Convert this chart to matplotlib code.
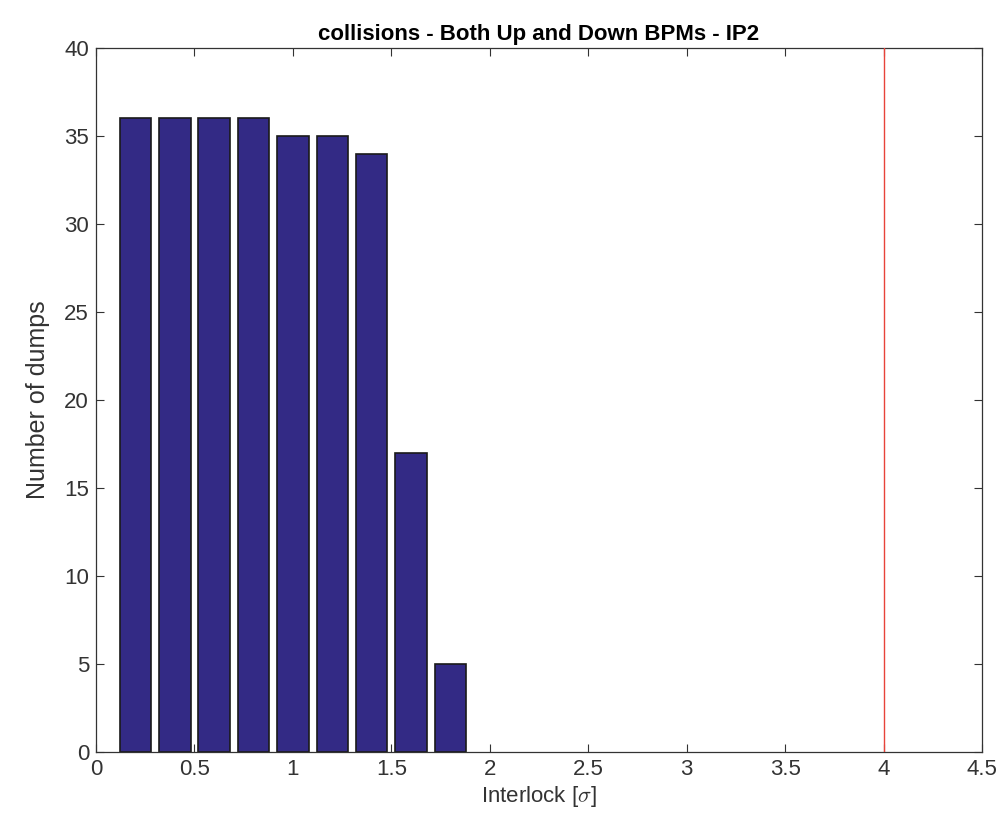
import matplotlib
matplotlib.use("Agg")
import matplotlib.pyplot as plt

plt.rcParams['font.family'] = ['Liberation Sans', 'DejaVu Sans']
plt.rcParams['mathtext.fontset'] = 'cm'

interlock = [0.2, 0.4, 0.6, 0.8, 1.0, 1.2, 1.4, 1.6, 1.8]
dumps = [36, 36, 36, 36, 35, 35, 34, 17, 5]
threshold = 4.0
xticks = [0, 0.5, 1, 1.5, 2, 2.5, 3, 3.5, 4, 4.5]
xticklabels = ['0', '0.5', '1', '1.5', '2', '2.5', '3', '3.5', '4', '4.5']
yticks = [0, 5, 10, 15, 20, 25, 30, 35, 40]

fig = plt.figure(figsize=(10.01, 8.15), dpi=100)
ax = fig.add_axes([0.0959, 0.0773, 0.8851, 0.8638])

ax.bar(interlock, dumps, width=0.16, color='#332a85', edgecolor='#1a1a1a', linewidth=1.2, zorder=2)
ax.axvline(threshold, color='#e8433a', linewidth=1.0, zorder=3)

ax.set_xlim(0, 4.5)
ax.set_ylim(0, 40)
ax.set_xticks(xticks)
ax.set_xticklabels(xticklabels)
ax.set_yticks(yticks)
ax.tick_params(direction='in', length=6, width=0.8, colors='#333333', labelsize=16,
               top=True, right=True, pad=5)
for s in ax.spines.values():
    s.set_color('#333333')
    s.set_linewidth(0.9)

ax.set_xlabel(r'Interlock [$\sigma$]', fontsize=16, color='#333333', labelpad=3)
ax.set_ylabel('Number of dumps', fontsize=18, color='#333333', labelpad=10)
ax.set_title('collisions - Both Up and Down BPMs - IP2', fontsize=16, fontweight='bold', pad=6)

fig.savefig('out.png', dpi=100)
